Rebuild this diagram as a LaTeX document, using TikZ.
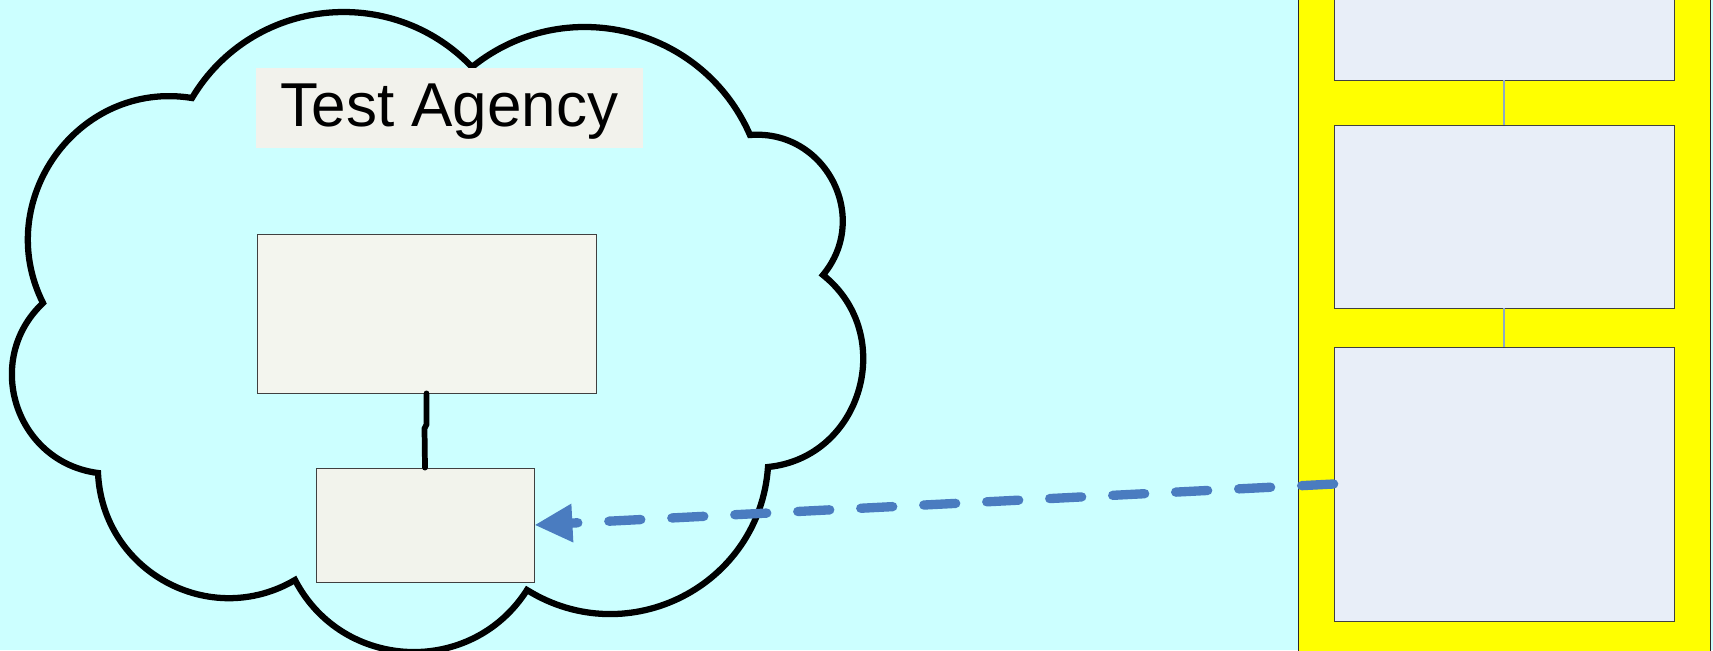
\documentclass[tikz,border=0pt]{standalone}
\usepackage{fontspec}
\setmainfont{Liberation Sans}
\usetikzlibrary{arrows.meta}

\begin{document}
\begin{tikzpicture}[x=0.75pt,y=0.75pt,yscale=-1,xscale=1,
  plainbox/.style={draw={rgb, 255:red, 64; green, 64; blue, 64 }, line width=0.6pt, inner sep=0pt},
  agencybox/.style={plainbox, fill={rgb, 255:red, 243; green, 245; blue, 238 }},
  titlebox/.style={fill={rgb, 255:red, 242; green, 242; blue, 236 }, inner sep=0pt, minimum width=290.25pt, minimum height=60pt, text height=33pt, text depth=6pt, font=\fontsize{46.5}{55}\selectfont},
  panelbox/.style={plainbox, fill={rgb, 255:red, 232; green, 238; blue, 248 }, minimum width=255pt},
  panellink/.style={draw={rgb, 255:red, 143; green, 170; blue, 196 }, line width=0.9pt},
  agencylink/.style={line width=4.3pt, line cap=round},
  dasharrow/.style={draw={rgb, 255:red, 74; green, 124; blue, 192 }, line width=7pt, line cap=round, dash pattern=on 24pt off 23.3pt, -{Triangle[length=28.5pt,width=27pt]}}
]
\useasboundingbox (0,0) rectangle (1713,650);
\clip (0,0) rectangle (1713,650);
%Shape: Rectangle [background]
\fill [fill={rgb, 255:red, 204; green, 255; blue, 255 }] (0,0) rectangle (1713,650);

%Shape: Rectangle [panel]
\node [draw={rgb, 255:red, 40; green, 40; blue, 40 }, line width=0.6pt, fill={rgb, 255:red, 255; green, 255; blue, 0 }, inner sep=0pt, minimum width=309pt, minimum height=525pt] (panel) at (1504,325) {};
%Shape: Rectangle
\node [panelbox, minimum height=63.75pt] (pbox1) at (1504,37.5) {};
%Shape: Rectangle
\node [panelbox, minimum height=137.25pt] (pbox2) at (1504,216.5) {};
%Shape: Rectangle
\node [panelbox, minimum height=205.5pt] (pbox3) at (1504,484) {};
%Straight Lines
\draw [panellink] (pbox1.south) -- (pbox2.north) ;
%Straight Lines
\draw [panellink] (pbox2.south) -- (pbox3.north) ;

%Shape: Cloud
\draw [line width=4.7pt] (43,303) .. controls (-8.5,200.2) and (78.5,79.6) .. (192,98) .. controls (251.9,-2.5) and (391.2,-17.6) .. (472,67) .. controls (564.4,-7.6) and (702.4,26.1) .. (750,135) .. controls (825.2,129.1) and (871.2,217) .. (823,275) .. controls (897.4,334.2) and (862.6,457.4) .. (768,467) .. controls (759.7,585.8) and (628.1,652.9) .. (527,590) .. controls (471.6,677) and (342.6,671.5) .. (295,580) .. controls (210,629.9) and (102.5,571.5) .. (98,473) .. controls (15.4,462.3) and (-17.6,360.1) .. cycle ;

% Text Node
\node [titlebox] (title) at (449.5,108) {Test Agency};
%Shape: Rectangle
\node [agencybox, minimum width=254.25pt, minimum height=119.25pt] (boxA) at (426.5,313.5) {};
%Shape: Rectangle
\node [agencybox, fill={rgb, 255:red, 242; green, 243; blue, 236 }, minimum width=163.5pt, minimum height=85.5pt] (boxB) at (425,525) {};
%Straight Lines
\draw [agencylink] (boxA.south) -- ++(0,31) -- ++(-2,4) -- (boxB.north) ;

%Straight Lines
\draw [dasharrow] (pbox3.west) -- (boxB.east) ;

\end{tikzpicture}
\end{document}
